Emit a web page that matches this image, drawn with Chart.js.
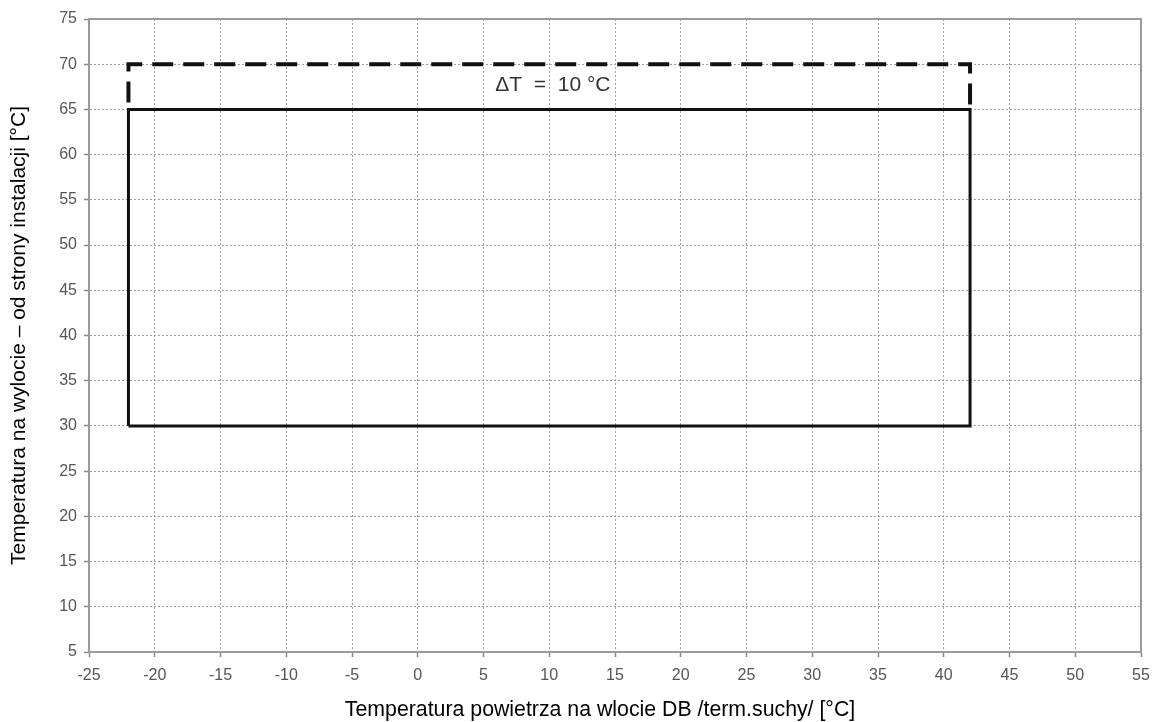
<!DOCTYPE html>
<html>
<head>
<meta charset="utf-8">
<script src="https://cdn.jsdelivr.net/npm/chart.js@4"></script>
<style>
  html, body { margin: 0; padding: 0; background: #fff; }
  #wrap { width: 1154px; height: 722px; }
</style>
</head>
<body>
<div id="wrap"><canvas id="c" width="1154" height="722"></canvas></div>
<script>
// Operating envelope: outdoor air temperature (x) vs. leaving water temperature (y)
const envelopeX = [-22, -22, 42, 42, -22];
const envelopeY = [30, 65, 65, 30, 30];

// Extension of the upper limit by ΔT
const extensionX = [-22, -22, 42, 42];
const extensionY = [65, 70, 70, 65];

const xTicks = [-25, -20, -15, -10, -5, 0, 5, 10, 15, 20, 25, 30, 35, 40, 45, 50, 55];
const yTicks = [5, 10, 15, 20, 25, 30, 35, 40, 45, 50, 55, 60, 65, 70, 75];

const deltaLabel = 'ΔT  =  10 °C';
const deltaLabelAt = { x: 10.28, y: 67.7 };

const xTitle = 'Temperatura powietrza na wlocie DB /term.suchy/ [°C]';
const yTitle = 'Temperatura na wylocie – od strony instalacji [°C]';

const toPoints = (xs, ys) => xs.map((x, i) => ({ x: x, y: ys[i] }));

const FONT = 'Liberation Sans, Arial, Helvetica, sans-serif';

const frameAndLabel = {
  id: 'frameAndLabel',
  beforeDatasetsDraw(chart) {
    const { ctx, chartArea: a } = chart;
    ctx.save();
    ctx.strokeStyle = '#9a9a9a';
    ctx.lineWidth = 2;
    ctx.beginPath();
    ctx.moveTo(a.left, a.top);
    ctx.lineTo(a.right, a.top);
    ctx.lineTo(a.right, a.bottom);
    ctx.stroke();
    ctx.restore();
  },
  afterDatasetsDraw(chart) {
    const { ctx, scales, chartArea: a } = chart;
    ctx.save();
    ctx.font = '21px ' + FONT;
    ctx.fillStyle = '#333';
    ctx.textAlign = 'center';
    ctx.textBaseline = 'middle';
    ctx.fillText(deltaLabel, scales.x.getPixelForValue(deltaLabelAt.x), scales.y.getPixelForValue(deltaLabelAt.y));
    // x-axis title, set slightly left of the plot centre
    ctx.font = '21.3px ' + FONT;
    ctx.fillStyle = '#000';
    ctx.fillText(xTitle, (a.left + a.right) / 2 - 15, chart.height - 12);
    ctx.restore();
  }
};

const gridStyle = {
  color: '#a0a0a0',
  lineWidth: 1,
  tickLength: 5,
  tickColor: '#888',
  tickBorderDash: [],
  tickWidth: 1.5
};
const borderStyle = { color: '#9a9a9a', width: 2, dash: [2, 2] };

new Chart(document.getElementById('c'), {
  type: 'scatter',
  data: {
    datasets: [
      {
        data: toPoints(envelopeX, envelopeY),
        showLine: true,
        borderColor: '#111',
        borderWidth: 3,
        pointRadius: 0,
        fill: false
      },
      {
        data: toPoints(extensionX, extensionY),
        showLine: true,
        borderColor: '#111',
        borderWidth: 4,
        borderDash: [21, 10],
        borderDashOffset: 24,
        pointRadius: 0,
        fill: false
      }
    ]
  },
  options: {
    responsive: false,
    animation: false,
    devicePixelRatio: 1,
    layout: { padding: { top: 19, right: 13, left: 0, bottom: 0 } },
    plugins: { legend: { display: false }, tooltip: { enabled: false } },
    scales: {
      x: {
        type: 'linear',
        min: xTicks[0],
        max: xTicks[xTicks.length - 1],
        afterBuildTicks(s) { s.ticks = xTicks.map(v => ({ value: v })); },
        afterFit(s) { s.height = 70; s.paddingLeft = 0; s.paddingRight = 0; },
        ticks: {
          color: '#555',
          font: { family: FONT, size: 16 },
          padding: 9,
          maxRotation: 0,
          autoSkip: false
        },
        grid: gridStyle,
        border: borderStyle,
        title: { display: false }
      },
      y: {
        type: 'linear',
        min: yTicks[0],
        max: yTicks[yTicks.length - 1],
        afterBuildTicks(s) { s.ticks = yTicks.map(v => ({ value: v })); },
        afterFit(s) { s.width = 89; s.paddingTop = 0; s.paddingBottom = 0; },
        ticks: {
          color: '#555',
          font: { family: FONT, size: 16 },
          padding: 7,
          autoSkip: false
        },
        grid: gridStyle,
        border: borderStyle,
        title: {
          display: true,
          text: yTitle,
          color: '#000',
          font: { family: FONT, size: 21 },
          padding: { top: 7, bottom: 0 }
        }
      }
    }
  },
  plugins: [frameAndLabel]
});
</script>
</body>
</html>
